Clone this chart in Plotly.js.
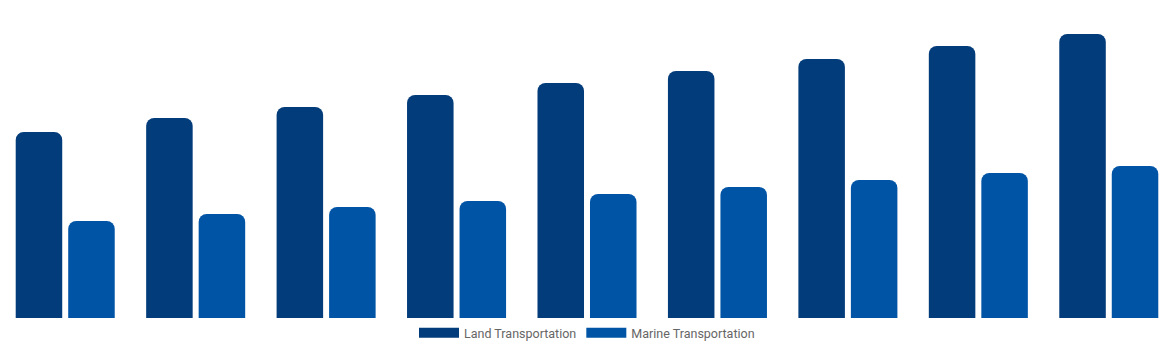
<!DOCTYPE html>
<html>
<head>
<meta charset="utf-8">
<script src="https://cdn.plot.ly/plotly-3.0.1.min.js"></script>
<style>html,body{margin:0;padding:0;background:#fff;}#chart{width:1174px;height:350px;}</style>
</head>
<body>
<div id="chart"></div>
<script>
const categories = ["2016", "2017", "2018", "2019", "2020", "2021", "2022", "2023", "2024"];
const landTransportation = [186, 200, 211, 223, 235, 247, 259, 272, 284];
const marineTransportation = [97, 104, 111, 117, 124, 131, 138, 145, 152];
const seriesNames = ["Land Transportation", "Marine Transportation"];
const colors = ["#033c7a", "#0054a6"];

const traces = [
  {type: "bar", x: categories, y: landTransportation, name: seriesNames[0], marker: {color: colors[0]}, showlegend: false, hoverinfo: "x+y+name"},
  {type: "bar", x: categories, y: marineTransportation, name: seriesNames[1], marker: {color: colors[1]}, showlegend: false, hoverinfo: "x+y+name"},
  {type: "scatter", mode: "lines", x: [categories[0]], y: [null], name: seriesNames[0], line: {color: colors[0], width: 12}, hoverinfo: "skip"},
  {type: "scatter", mode: "lines", x: [categories[0]], y: [null], name: seriesNames[1], line: {color: colors[1], width: 12}, hoverinfo: "skip"}
];

const layout = {
  width: 1174, height: 350,
  margin: {l: 0, r: 0, t: 18, b: 32, pad: 0},
  paper_bgcolor: "#ffffff", plot_bgcolor: "#ffffff",
  barmode: "group", bargap: 0.195, bargroupgap: 0.114, barcornerradius: 8,
  xaxis: {type: "category", showticklabels: false, showgrid: false, zeroline: false, showline: false, ticks: ""},
  yaxis: {range: [0, 300], showticklabels: false, showgrid: false, zeroline: false, showline: false, ticks: ""},
  showlegend: true,
  legend: {orientation: "h", x: 0.5, xanchor: "center", y: 0.0, yanchor: "top", font: {family: "Roboto, Arial, sans-serif", size: 12.5, color: "#666666"}, itemwidth: 40, bgcolor: "rgba(0,0,0,0)"},
  font: {family: "Roboto, Arial, sans-serif"}
};

Plotly.newPlot("chart", traces, layout, {displayModeBar: false, staticPlot: true});
</script>
</body>
</html>
